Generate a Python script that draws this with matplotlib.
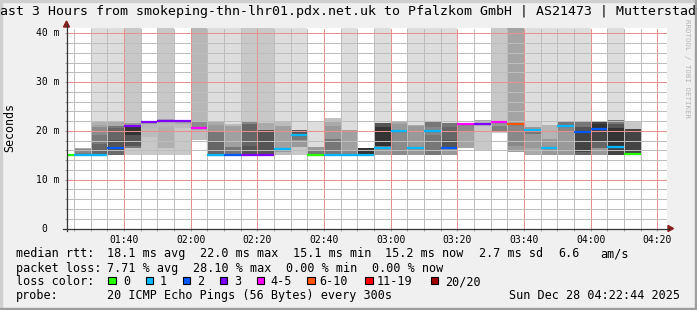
import matplotlib
matplotlib.use("Agg")
import matplotlib.pyplot as plt
from matplotlib.patches import Rectangle, Polygon
from matplotlib.lines import Line2D

plt.rcParams["font.family"] = "DejaVu Sans Mono"

W, H = 697, 310

title = "Last 3 Hours from smokeping-thn-lhr01.pdx.net.uk to Pfalzkom GmbH | AS21473 | Mutterstadt"
t_start = "01:22:44"
t_end = "04:22:44"

# 5 minute steps (first one cut by the left edge)
bin_edges = ["01:22:44", "01:25", "01:30", "01:35", "01:40", "01:45", "01:50", "01:55",
             "02:00", "02:05", "02:10", "02:15", "02:20", "02:25", "02:30", "02:35",
             "02:40", "02:45", "02:50", "02:55", "03:00", "03:05", "03:10", "03:15",
             "03:20", "03:25", "03:30", "03:35", "03:40", "03:45", "03:50", "03:55",
             "04:00", "04:05", "04:10", "04:15"]

median_ms = [15.1, 15.1, 15.1, 16.5, 21.1, 21.8, 22.0, 22.0, 20.6, 15.1,
             15.1, 15.1, 15.1, 16.3, 19.2, 15.1, 15.1, 15.1, 15.1, 16.6,
             20.0, 16.5, 20.0, 16.5, 21.5, 21.5, 21.9, 21.5, 20.2, 16.5,
             21.0, 19.8, 20.4, 16.7, 15.2]

lost_pings = [0, 1, 1, 2, 3, 3, 3, 3, 5, 1, 2, 3, 3, 1, 1, 0, 1, 1, 1, 1,
              1, 1, 1, 2, 5, 3, 5, 6, 1, 1, 1, 2, 2, 1, 0]

# loss colour legend
loss_limits = [0, 1, 2, 3, 5, 10, 19, 20]
loss_names = ["0", "1", "2", "3", "4-5", "6-10", "11-19", "20/20"]
loss_colors = ["#26ff00", "#00b8ff", "#0059ff", "#7e00ff", "#ff00ff", "#ff5500", "#ff0000", "#a10000"]

# smoke: band edges (top -> bottom, ms) and grey level of each band; OFF = above the chart
OFF = 45.0
smoke_edges = [
    [],
    [16.6, 16.2, 15.4, 15.0],
    [OFF, 21.9, 21.3, 20.8, 19.2, 17.4, 15.0],
    [OFF, 21.8, 21.0, 20.5, 18.1, 16.0, 15.0],
    [OFF, 21.7, 21.3, 20.8, 19.1, 17.0, 16.4, 15.0],
    [21.9, 21.5, 20.5, 18.7, 15.0],
    [OFF, 22.4, 21.8, 20.8, 16.4, 15.0],
    [22.2, 21.5, 20.5, 15.0],
    [OFF, 21.9, 20.6, 20.1, 18.1],
    [OFF, 21.9, 21.3, 19.8, 17.7, 15.0],
    [OFF, 21.5, 21.1, 16.7, 15.0],
    [OFF, 21.9, 21.5, 17.0, 15.0],
    [OFF, 21.7, 20.1, 15.0],
    [OFF, 21.9, 21.1, 16.5, 15.6, 15.0],
    [OFF, 20.1, 19.1, 18.1, 16.7, 15.0],
    [21.9, 16.7, 16.0, 15.0],
    [22.6, 22.0, 21.1, 18.4, 15.0],
    [OFF, 20.1, 16.0, 15.0],
    [16.6, 15.0],
    [OFF, 21.7, 20.8, 17.0, 16.4, 15.0],
    [21.9, 21.5, 20.0, 15.0],
    [OFF, 21.3, 21.0, 15.0],
    [OFF, 21.8, 20.8, 19.1, 15.0],
    [OFF, 21.7, 20.8, 18.1, 16.7, 15.0],
    [21.7, 19.8, 16.4],
    [22.2, 21.8, 21.1, 16.0],
    [OFF, 21.9, 21.1, 19.9, 19.6],
    [OFF, 21.5, 17.0, 15.6],
    [OFF, 21.8, 20.8, 20.2, 19.4, 16.4, 15.0],
    [OFF, 21.3, 18.4, 15.0],
    [OFF, 21.8, 21.1, 19.8, 15.0],
    [OFF, 21.8, 20.8, 19.8, 15.7, 15.0],
    [21.9, 21.5, 20.4, 17.7, 16.4, 15.0],
    [OFF, 22.2, 21.5, 20.5, 16.7, 15.0],
    [21.9, 20.3, 15.0],
]
smoke_greys = [
    [],
    ["aa", "88", "77"],
    ["dd", "b0", "a4", "8c", "7a", "66"],
    ["dd", "aa", "77", "66", "55", "6a"],
    ["c8", "99", "44", "33", "55", "77", "c8"],
    ["aa", "b7", "bb", "c8"],
    ["c8", "aa", "b7", "b0", "c8"],
    ["aa", "bb", "c8"],
    ["b7", "8c", "aa", "bd"],
    ["dd", "aa", "99", "77", "66"],
    ["dd", "bb", "a0", "77"],
    ["c8", "88", "66", "55"],
    ["c8", "aa", "55"],
    ["dd", "bb", "a0", "99", "bb"],
    ["dd", "55", "77", "99", "c8"],
    ["dd", "99", "77"],
    ["c0", "aa", "99", "77"],
    ["dd", "a0", "88"],
    ["33"],
    ["dd", "55", "33", "77", "99"],
    ["aa", "99", "8a"],
    ["dd", "aa", "99"],
    ["dd", "77", "88", "77"],
    ["dd", "77", "66", "55", "99"],
    ["8c", "a4"],
    ["aa", "bb", "c8"],
    ["c8", "99", "80", "cc"],
    ["a4", "88", "9c"],
    ["dd", "cc", "99", "77", "99", "aa"],
    ["dd", "b5", "99"],
    ["dd", "77", "88", "99"],
    ["dd", "77", "55", "44", "66"],
    ["44", "33", "44", "66", "99"],
    ["dd", "77", "55", "33", "44"],
    ["c8", "44"],
]

x_tick_labels = ["01:40", "02:00", "02:20", "02:40", "03:00", "03:20", "03:40", "04:00", "04:20"]
y_ticks = [0, 10, 20, 30, 40]
y_tick_labels = ["0", "10 m", "20 m", "30 m", "40 m"]

median_stats = ["18.1 ms avg", "22.0 ms max", "15.1 ms min", "15.2 ms now", "2.7 ms sd", "6.6", "am/s"]
loss_stats = ["7.71 % avg", "28.10 % max", "0.00 % min", "0.00 % now"]
probe_text = "20 ICMP Echo Pings (56 Bytes) every 300s"
stamp = "Sun Dec 28 04:22:44 2025"


def mins(s):
    p = [int(v) for v in s.split(":")]
    return p[0] * 60 + p[1] + (p[2] / 60 if len(p) > 2 else 0)


def fx(px):
    return px / W


def fy(py):
    return 1 - py / H


fig = plt.figure(figsize=(W / 100, H / 100), dpi=100, facecolor="#f0f0f0")
ax = fig.add_axes([fx(66.5), fy(228.5), 600 / W, 200.5 / H])
ax.set_facecolor("white")
for s in ax.spines.values():
    s.set_visible(False)

edges = [mins(s) for s in bin_edges]

# smoke
for i in range(len(median_ms)):
    e = smoke_edges[i]
    for j, g in enumerate(smoke_greys[i]):
        ax.bar(edges[i], e[j] - e[j + 1], width=edges[i + 1] - edges[i], bottom=e[j + 1],
               align="edge", color="#" + g * 3, linewidth=0, antialiased=False, zorder=1)

# median: dark steps, then loss coloured pieces
ax.plot(edges, median_ms + [median_ms[-1]], drawstyle="steps-post", color="#333333",
        lw=0.8, zorder=2.2)
for i, m in enumerate(median_ms):
    k = next(n for n, lim in enumerate(loss_limits) if lost_pings[i] <= lim)
    ax.hlines(m, edges[i], edges[i + 1], color=loss_colors[k], lw=1.6, zorder=3)

ax.set_xlim(mins(t_start), mins(t_end))
ax.set_ylim(0, 41.1)

ax.set_xticks([mins(s) for s in x_tick_labels])
ax.set_xticklabels(x_tick_labels, fontsize=7)
ax.set_xticks([mins("01:25") + 5 * n for n in range(36)], minor=True)
ax.set_yticks(y_ticks)
ax.set_yticklabels([])
ax.set_yticks([2 * n for n in range(21)], minor=True)
ax.tick_params(axis="x", which="both", length=1.5, width=0.7, color="#999999", pad=3)
ax.tick_params(axis="y", which="both", length=1.5, width=0.7, color="#999999")

ax.set_axisbelow(False)
ax.grid(which="minor", color="#bdbdbd", lw=0.72, ls=(0, (1, 1)), antialiased=False)
ax.grid(which="major", color="#e89090", lw=0.72, ls=(0, (1, 1)), antialiased=False)

for v, lab in zip(y_ticks, y_tick_labels):
    xr = -7.5 / 600 if lab != "0" else -19.5 / 600
    ax.text(xr, v, lab, transform=ax.get_yaxis_transform(), ha="right", va="center", fontsize=7)

# axes lines with arrows
axis_c = "#333333"
arrow_c = "#8a1c1c"
fig.add_artist(Line2D([fx(62.5), fx(669)], [fy(228.5), fy(228.5)], color=axis_c, lw=0.9,
                      transform=fig.transFigure))
fig.add_artist(Line2D([fx(66.5), fx(66.5)], [fy(231), fy(24)], color=axis_c, lw=0.9,
                      transform=fig.transFigure))
fig.add_artist(Polygon([[fx(668), fy(225.5)], [fx(668), fy(231.5)], [fx(673.5), fy(228.5)]],
                       closed=True, color=arrow_c, transform=fig.transFigure))
fig.add_artist(Polygon([[fx(63.5), fy(27)], [fx(69.5), fy(27)], [fx(66.5), fy(21)]],
                       closed=True, color=arrow_c, transform=fig.transFigure))

# frame
fig.add_artist(Rectangle((0, fy(2)), 1, 2 / H, color="#cfcfcf", transform=fig.transFigure))
fig.add_artist(Rectangle((0, 0), 2 / W, 1, color="#cfcfcf", transform=fig.transFigure))
fig.add_artist(Rectangle((0, 0), 1, 2 / H, color="#9e9e9e", transform=fig.transFigure))
fig.add_artist(Rectangle((fx(W - 2), 0), 2 / W, 1, color="#9e9e9e", transform=fig.transFigure))

# title, unit, watermark
fig.text(0.5, fy(11), title, ha="center", va="center", fontsize=9.55)
fig.text(fx(10), fy(128), "Seconds", rotation=90, ha="center", va="center", fontsize=8.4)
fig.text(fx(686.5), fy(19), "RRDTOOL / TOBI OETIKER", rotation=270, ha="center", va="top",
         fontsize=5.3, color="#b4b4b4")

# legend
fs = 8.43
rows = [257.3, 271.7, 285.3, 299.3]
fig.text(fx(16), fy(rows[0]), "median rtt:", fontsize=fs, va="baseline")
for xp, s in zip([107.3, 200, 293.3, 385, 479.3, 558.3, 600], median_stats):
    fig.text(fx(xp), fy(rows[0]), s, fontsize=fs, va="baseline")
fig.text(fx(16), fy(rows[1]), "packet loss:", fontsize=fs, va="baseline")
for xp, s in zip([107.3, 193.3, 286, 372.3], loss_stats):
    fig.text(fx(xp), fy(rows[1]), s, fontsize=fs, va="baseline")
fig.text(fx(16), fy(rows[2]), "loss color:", fontsize=fs, va="baseline")
box_x = [108.3, 145.7, 182.7, 220, 256.7, 307.3, 365, 430.7]
lab_x = [123.3, 160, 197.3, 234.3, 270.7, 319.3, 376.7, 445]
for bx, lx, name, c in zip(box_x, lab_x, loss_names, loss_colors):
    fig.add_artist(Rectangle((fx(bx), fy(284.3)), 7.5 / W, 7.5 / H, facecolor=c,
                             edgecolor="black", lw=0.8, transform=fig.transFigure))
    fig.text(fx(lx), fy(rows[2]), name, fontsize=fs, va="baseline")
fig.text(fx(16), fy(rows[3]), "probe:", fontsize=fs, va="baseline")
fig.text(fx(107.3), fy(rows[3]), probe_text, fontsize=fs, va="baseline")
fig.text(fx(680), fy(rows[3]), stamp, fontsize=fs, va="baseline", ha="right")

fig.savefig("out.png", dpi=100, facecolor=fig.get_facecolor())
